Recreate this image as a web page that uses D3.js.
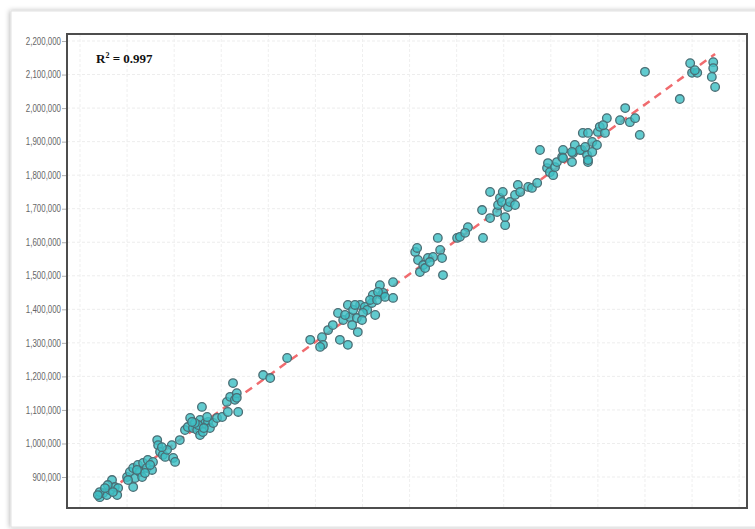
<!DOCTYPE html>
<html>
<head>
<meta charset="utf-8">
<script src="https://cdn.jsdelivr.net/npm/d3@7"></script>
<style>
  body { margin: 0; background: #ffffff; }
  svg { display: block; }
</style>
</head>
<body>
<div id="chart"></div>
<script>
const predicted = [
  842000, 849000, 857000, 864000, 868000, 874000, 881000, 879000, 842000, 859000, 853000, 870000, 838000,
  900000, 906000, 913000, 917000, 913000, 923000, 927000, 934000, 942000, 944000, 953000, 955000, 932000, 938000, 902000, 921000, 949000,
  964000, 966000, 970000, 976000, 981000, 995000, 998000, 1002000, 985000, 974000, 1012000,
  1023000, 1029000, 1034000, 1040000, 1049000, 1055000, 1059000, 1055000, 1061000, 1066000, 1072000, 1076000, 1083000, 1070000, 1051000, 1044000, 1038000, 1063000, 1091000, 1102000,
  1112000, 1119000, 1125000, 1129000, 1133000, 1136000, 1133000, 1114000,
  1189000, 1204000, 1240000, 1289000, 1314000, 1316000, 1310000, 1327000, 1337000, 1348000, 1352000, 1369000, 1369000, 1359000, 1373000, 1380000, 1388000, 1378000, 1390000, 1395000, 1405000, 1410000, 1401000, 1420000, 1427000, 1422000, 1437000, 1441000, 1444000, 1433000, 1448000, 1465000, 1465000, 1363000, 1384000, 1416000, 1431000, 1399000,
  1512000, 1516000, 1518000, 1522000, 1529000, 1533000, 1539000, 1550000, 1560000, 1565000, 1569000, 1571000, 1543000,
  1601000, 1607000, 1624000, 1618000, 1656000, 1654000, 1671000, 1671000, 1686000, 1688000, 1692000, 1696000, 1698000, 1703000, 1703000, 1709000, 1713000, 1724000, 1724000, 1730000, 1735000, 1752000, 1760000, 1771000, 1777000,
  1792000, 1794000, 1798000, 1805000, 1809000, 1813000, 1824000, 1826000, 1845000, 1847000, 1866000, 1877000, 1879000, 1888000, 1851000, 1862000, 1868000, 1873000, 1879000, 1879000, 1888000, 1898000, 1900000, 1904000, 1915000, 1919000, 1911000, 1826000, 1845000,
  1947000, 1958000, 1968000, 1979000, 1989000, 2000000, 2074000, 2096000, 2100000, 2111000, 2106000, 2145000, 2145000, 2142000, 2149000
];

const actual = [
  840000, 852000, 846000, 861000, 891000, 870000, 867000, 846000, 855000, 876000, 867000, 855000, 846000,
  900000, 915000, 927000, 897000, 870000, 936000, 915000, 942000, 927000, 951000, 921000, 945000, 900000, 912000, 891000, 921000, 936000,
  1010000, 995000, 975000, 966000, 960000, 995000, 957000, 945000, 981000, 989000, 1010000,
  1040000, 1049000, 1076000, 1046000, 1040000, 1070000, 1109000, 1025000, 1034000, 1061000, 1064000, 1046000, 1061000, 1079000, 1055000, 1061000, 1064000, 1046000, 1076000, 1079000,
  1124000, 1139000, 1180000, 1130000, 1150000, 1094000, 1136000, 1094000,
  1204000, 1195000, 1255000, 1309000, 1317000, 1294000, 1288000, 1338000, 1353000, 1389000, 1309000, 1294000, 1413000, 1368000, 1377000, 1398000, 1374000, 1353000, 1332000, 1413000, 1407000, 1398000, 1389000, 1419000, 1383000, 1443000, 1472000, 1443000, 1449000, 1452000, 1437000, 1481000, 1434000, 1383000, 1413000, 1428000, 1428000, 1368000,
  1571000, 1583000, 1547000, 1511000, 1532000, 1523000, 1553000, 1556000, 1613000, 1577000, 1553000, 1502000, 1541000,
  1613000, 1616000, 1645000, 1628000, 1613000, 1696000, 1672000, 1750000, 1690000, 1711000, 1732000, 1720000, 1750000, 1651000, 1675000, 1705000, 1720000, 1711000, 1741000, 1771000, 1750000, 1765000, 1762000, 1777000, 1875000,
  1821000, 1836000, 1809000, 1800000, 1824000, 1839000, 1854000, 1875000, 1839000, 1866000, 1875000, 1860000, 1839000, 1869000, 1890000, 1875000, 1926000, 1884000, 1926000, 1845000, 1899000, 1890000, 1929000, 1944000, 1926000, 1970000, 1949000, 1851000, 1869000,
  1964000, 2000000, 1958000, 1970000, 1920000, 2108000, 2027000, 2134000, 2105000, 2105000, 2113000, 2137000, 2119000, 2093000, 2063000
];

const yTicks = d3.range(900000, 2200001, 100000);
const xGrid = d3.range(800000, 2200001, 100000);
const r2Label = "0.997";

const width = 755;
const height = 529;
const plot = { left: 67, right: 747, top: 34, bottom: 508 };

const svg = d3.select("#chart").append("svg")
  .attr("width", width)
  .attr("height", height);

const defs = svg.append("defs");
const shadow = defs.append("filter")
  .attr("id", "shadow")
  .attr("x", "-5%").attr("y", "-5%")
  .attr("width", "110%").attr("height", "110%");
shadow.append("feDropShadow")
  .attr("dx", -1).attr("dy", 0)
  .attr("stdDeviation", 2.5)
  .attr("flood-color", "#000")
  .attr("flood-opacity", 0.28);

// card behind the chart
svg.append("rect")
  .attr("x", 11).attr("y", 11)
  .attr("width", 760).attr("height", 516)
  .attr("fill", "#ffffff")
  .attr("stroke", "#e2e2e2")
  .attr("filter", "url(#shadow)");

const x = d3.scaleLinear()
  .domain([772400, 2216700])
  .range([plot.left, plot.right]);

const y = d3.scaleLinear()
  .domain([807600, 2220900])
  .range([plot.bottom, plot.top]);

// grid
const grid = svg.append("g").attr("class", "grid");
grid.selectAll("line.h")
  .data(yTicks)
  .join("line")
  .attr("class", "h")
  .attr("x1", plot.left).attr("x2", plot.right)
  .attr("y1", d => y(d)).attr("y2", d => y(d))
  .attr("stroke", "#ededed")
  .attr("stroke-dasharray", "3,2");

grid.selectAll("line.v")
  .data(xGrid)
  .join("line")
  .attr("class", "v")
  .attr("y1", plot.top).attr("y2", plot.bottom)
  .attr("x1", d => x(d)).attr("x2", d => x(d))
  .attr("stroke", "#efefef")
  .attr("stroke-dasharray", "3,2");

// y axis
const yAxis = svg.append("g")
  .attr("transform", `translate(${plot.left - 1}, 0)`)
  .call(d3.axisLeft(y).tickValues(yTicks).tickFormat(d3.format(",")).tickSize(4).tickPadding(1));

yAxis.select(".domain").remove();
yAxis.selectAll(".tick line").attr("stroke", "#b0b0b0");
yAxis.selectAll(".tick text")
  .attr("fill", "#666666")
  .attr("font-family", "Arial, 'Liberation Sans', sans-serif")
  .attr("font-size", 10)
  .each(function () {
    const len = this.getComputedTextLength();
    d3.select(this)
      .attr("textLength", len * 0.79)
      .attr("lengthAdjust", "spacingAndGlyphs");
  });

// regression line
const meanX = d3.mean(predicted);
const meanY = d3.mean(actual);
const slope = d3.sum(predicted, (v, i) => (v - meanX) * (actual[i] - meanY)) /
  d3.sum(predicted, v => (v - meanX) * (v - meanX));
const intercept = meanY - slope * meanX;
const [minX, maxX] = d3.extent(predicted);

svg.append("line")
  .attr("x1", x(minX)).attr("y1", y(intercept + slope * minX))
  .attr("x2", x(maxX)).attr("y2", y(intercept + slope * maxX))
  .attr("stroke", "#f06b6e")
  .attr("stroke-width", 2.5)
  .attr("stroke-dasharray", "8,6");

// points
const points = predicted.map((p, i) => ({ p: p, a: actual[i] }));

svg.append("g")
  .selectAll("circle")
  .data(points)
  .join("circle")
  .attr("cx", d => x(d.p))
  .attr("cy", d => y(d.a))
  .attr("r", 4.3)
  .attr("fill", "#3ec0c5")
  .attr("fill-opacity", 0.82)
  .attr("stroke", "#4a6d74")
  .attr("stroke-width", 1.3);

// frame
svg.append("rect")
  .attr("x", plot.left).attr("y", plot.top)
  .attr("width", plot.right - plot.left)
  .attr("height", plot.bottom - plot.top)
  .attr("fill", "none")
  .attr("stroke", "#4d4d4d")
  .attr("stroke-width", 2);

// R squared label
const label = svg.append("text")
  .attr("x", 96).attr("y", 63)
  .attr("font-family", "'Liberation Serif', 'Times New Roman', serif")
  .attr("font-weight", "bold")
  .attr("font-size", 13)
  .attr("fill", "#111");
label.append("tspan").text("R");
label.append("tspan").attr("font-size", 8).attr("dy", -5).text("2");
label.append("tspan").attr("dy", 5).text(" = " + r2Label);
</script>
</body>
</html>
